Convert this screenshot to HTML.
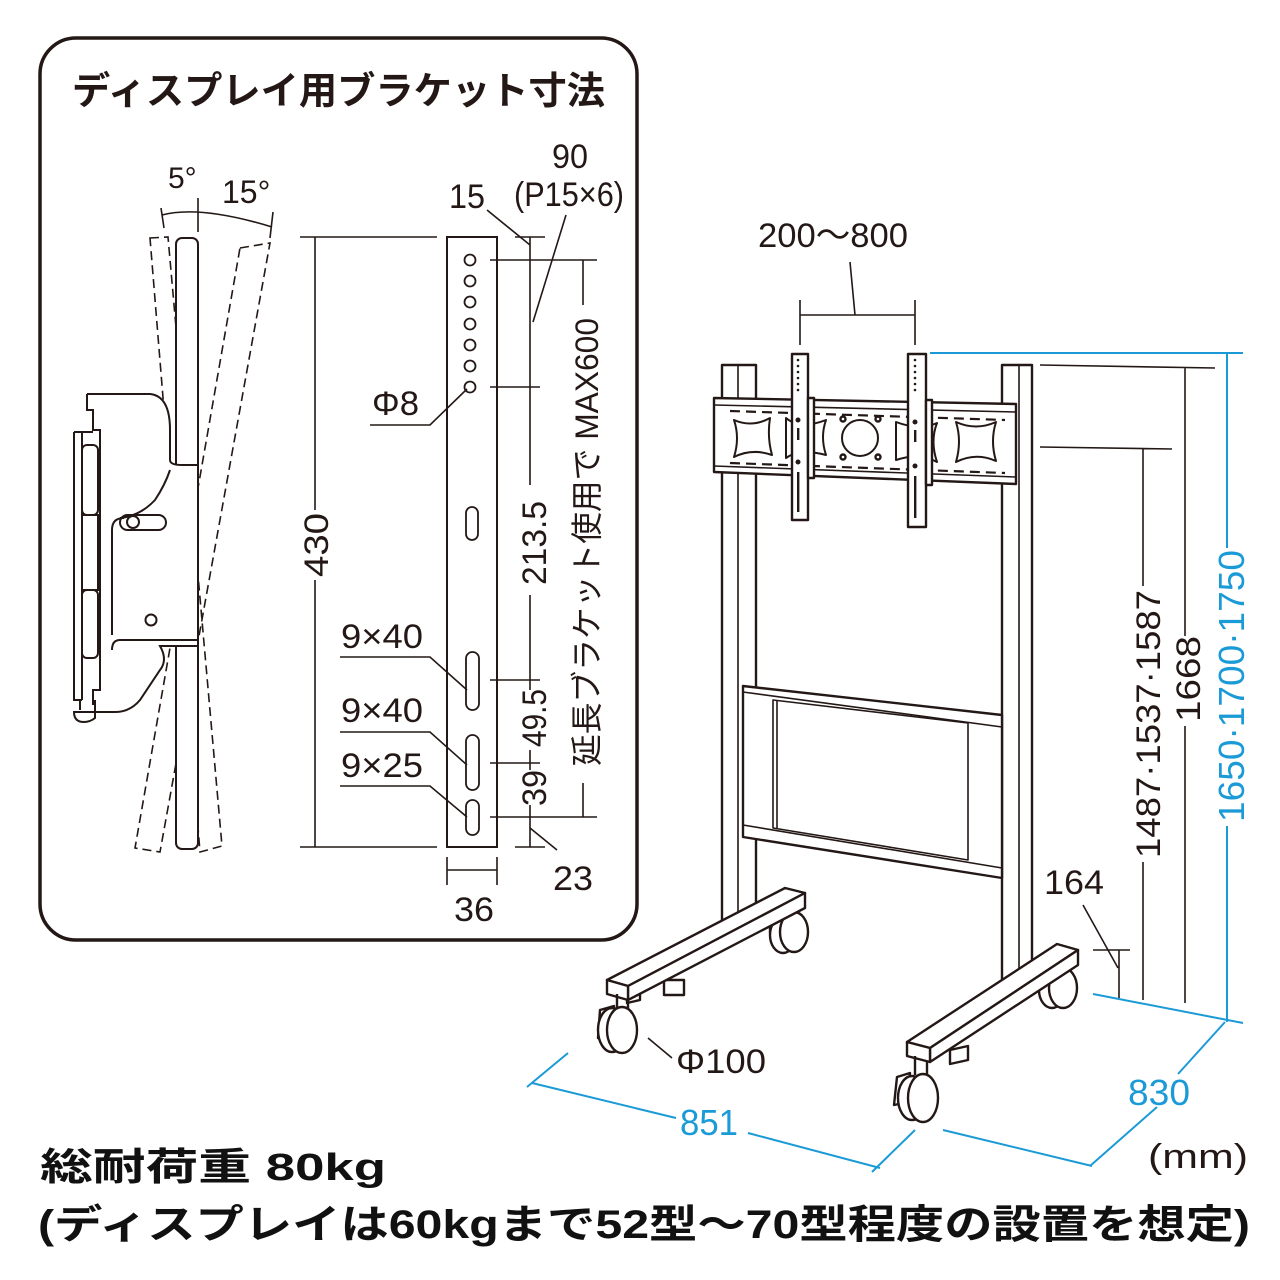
<!DOCTYPE html>
<html><head><meta charset="utf-8"><style>
html,body{margin:0;padding:0;background:#fff}
svg{display:block}
text{font-family:"Liberation Sans","Noto Sans CJK JP",sans-serif}
</style></head><body>
<svg width="1280" height="1280" viewBox="0 0 1280 1280" xmlns="http://www.w3.org/2000/svg">
<rect width="1280" height="1280" fill="#fff"/>
<rect x="40" y="38" width="597" height="902" rx="36" fill="none" stroke="#231815" stroke-width="3.5"/>
<text x="72" y="104" font-size="38" font-weight="bold" fill="#231815" textLength="533" lengthAdjust="spacingAndGlyphs">ディスプレイ用ブラケット寸法</text>

<g fill="none" stroke="#231815" stroke-width="1.6">
<path d="M161,208 L164,228 M198,198 L198,232 M273,212 L270,238"/>
<path d="M162,215 Q200,205 272,227"/>
<path d="M150,238 L168,237 L222,846 L200,852 Z" stroke-dasharray="9,5"/>
<path d="M240,248 L270,243 L160,852 L135,848 Z" stroke-dasharray="9,5"/>
<rect x="176" y="238" width="22" height="611" rx="6" fill="#fff" stroke-width="2"/>
<path d="M87,394 L150,394 Q170,396 170,430 L170,460 Q170,465 182,465 L198,465 L198,646 L160,646 Q168,660 160,670 L140,700 Q130,712 115,712 L95,712" fill="#fff" stroke-width="2"/>
<path d="M112,650 Q112,640 120,640 L198,640 M112,530 L112,635" stroke-width="2"/>
<path d="M120,518 Q140,516 155,500 Q165,485 170,470" stroke-width="2"/>
<path d="M112,530 Q112,518 124,518" stroke-width="2"/>
<path d="M160,646 L175,646" stroke-width="2"/>
<rect x="120" y="515" width="46" height="15" rx="7.5" stroke-width="2"/>
<circle cx="133" cy="522" r="6" stroke-width="2"/>
<circle cx="151" cy="620" r="5.5" stroke-width="2"/>
<path d="M87,394 L87,410 L93,410 L93,430 L100,430 L100,690 L93,690 L93,705" stroke-width="2"/>
<path d="M74,432 L74,700 L82,700 M82,432 L82,700 M74,432 L93,432" stroke-width="2"/>
<rect x="82" y="445" width="16" height="70" rx="5" stroke-width="2"/>
<rect x="82" y="515" width="16" height="75" stroke-width="2"/>
<rect x="82" y="590" width="16" height="68" rx="5" stroke-width="2"/>
<path d="M80,700 L80,710 M95,700 L95,712" stroke-width="2"/>
<path d="M74,712 L95,712 L95,718 Q90,722 84,722 Q74,722 74,712 Z" stroke-width="2"/>
<path d="M300,237 L437,237 M300,847 L437,847 M315,237 L315,510 M315,580 L315,847"/>
<rect x="447" y="237" width="50" height="610" stroke-width="2"/>
<g stroke-width="1.8">
<circle cx="470" cy="260" r="5.5"/><circle cx="470" cy="281" r="5.5"/><circle cx="470" cy="302" r="5.5"/><circle cx="470" cy="324" r="5.5"/><circle cx="470" cy="345" r="5.5"/><circle cx="470" cy="366" r="5.5"/><circle cx="470" cy="387" r="5.5"/>
<rect x="466" y="507" width="12" height="33" rx="6"/>
<rect x="466" y="652" width="13" height="58" rx="6.5"/>
<rect x="466" y="735" width="13" height="55" rx="6.5"/>
<rect x="466" y="800" width="13" height="35" rx="6.5"/>
</g>
<path d="M515,237 L545,237 M490,260 L597,260 M490,387 L540,387 M490,680 L540,680 M490,763 L540,763 M490,817 L597,817 M515,847 L545,847"/>
<path d="M530,237 L530,485 M530,595 L530,680 M530,680 L530,690 M530,750 L530,763 M530,763 L530,770 M530,805 L530,847"/>
<path d="M583,260 L583,305 M583,783 L583,817"/>
<path d="M447,857 L447,885 M497,857 L497,885 M447,870 L497,870"/>
<path d="M530,828 L557,850"/>
<path d="M487,210 L530,245"/>
<path d="M566,215 L533,322"/>
<path d="M370,425 L430,425 L467,389"/>
<path d="M340,657 L430,657 L467,690"/>
<path d="M340,732 L430,732 L467,765"/>
<path d="M340,786 L430,786 L467,817"/>
</g>
<g fill="#231815" font-size="34">
<text x="168" y="188" font-size="30">5°</text>
<text x="222" y="203" font-size="32">15°</text>
<text x="0" y="0" transform="translate(328,577) rotate(-90)" textLength="64" lengthAdjust="spacingAndGlyphs">430</text>
<text x="0" y="0" transform="translate(546,585) rotate(-90)" textLength="84" lengthAdjust="spacingAndGlyphs">213.5</text>
<text x="0" y="0" transform="translate(546,747) rotate(-90)" textLength="58" lengthAdjust="spacingAndGlyphs">49.5</text>
<text x="0" y="0" transform="translate(546,806) rotate(-90)" textLength="36" lengthAdjust="spacingAndGlyphs">39</text>
<text x="0" y="0" transform="translate(598,766) rotate(-90)" font-size="32" textLength="448" lengthAdjust="spacingAndGlyphs">延長ブラケット使用で MAX600</text>
<text x="449" y="208" textLength="36" lengthAdjust="spacingAndGlyphs">15</text>
<text x="552" y="168" textLength="36" lengthAdjust="spacingAndGlyphs">90</text>
<text x="514" y="206" textLength="110" lengthAdjust="spacingAndGlyphs">(P15×6)</text>
<text x="372" y="415" textLength="47" lengthAdjust="spacingAndGlyphs">Φ8</text>
<text x="341" y="648" textLength="82" lengthAdjust="spacingAndGlyphs">9×40</text>
<text x="341" y="722" textLength="82" lengthAdjust="spacingAndGlyphs">9×40</text>
<text x="341" y="777" textLength="82" lengthAdjust="spacingAndGlyphs">9×25</text>
<text x="553" y="890" textLength="40" lengthAdjust="spacingAndGlyphs">23</text>
<text x="454" y="921" textLength="40" lengthAdjust="spacingAndGlyphs">36</text>
<text x="758" y="247" textLength="150" lengthAdjust="spacingAndGlyphs">200～800</text>
<text x="0" y="0" transform="translate(1160,858) rotate(-90)" textLength="268" lengthAdjust="spacingAndGlyphs">1487·1537·1587</text>
<text x="0" y="0" transform="translate(1200,722) rotate(-90)" textLength="86" lengthAdjust="spacingAndGlyphs">1668</text>
<text x="1044" y="894" textLength="60" lengthAdjust="spacingAndGlyphs">164</text>
<text x="676" y="1073" textLength="90" lengthAdjust="spacingAndGlyphs">Φ100</text>
<text x="1148" y="1168" textLength="100" lengthAdjust="spacingAndGlyphs">(mm)</text>
</g>
<g fill="#1a9ad6" font-size="36">
<text x="0" y="0" transform="translate(1244,822) rotate(-90)" textLength="272" lengthAdjust="spacingAndGlyphs">1650·1700·1750</text>
<text x="680" y="1135" textLength="58" lengthAdjust="spacingAndGlyphs">851</text>
<text x="1128" y="1105" textLength="62" lengthAdjust="spacingAndGlyphs">830</text>
</g>
<g fill="none" stroke="#1a9ad6" stroke-width="2">
<path d="M930,353 L1243,353 M1227,353 L1227,548 M1227,826 L1227,1022"/>
<path d="M1093,994 L1243,1023"/>
<path d="M1225,1022 L1178,1074 M1157,1107 L1090,1166"/>
<path d="M532,1083 L676,1118 M748,1133 L880,1168 M568,1053 L527,1087 M915,1130 L872,1172 M943,1130 L1092,1166"/>
</g>
<g fill="#fff" stroke="#231815" stroke-width="2.4" stroke-linejoin="round">
<rect x="722" y="365" width="34" height="560"/>
<path d="M738,365 L738,925" stroke-width="1.6"/>
<rect x="1002" y="365" width="30" height="615"/>
<path d="M1019,365 L1019,980" stroke-width="1.6"/>
<path d="M743,686 L1002,715 L1002,878 L743,837 Z"/>
<path d="M743,692 L1002,727" stroke-width="1.6"/>
<path d="M743,825 L1002,868" stroke-width="1.6"/>
<path d="M773,700 L968,723 L968,860 L773,828 Z" stroke-width="1.6"/>
<path d="M777,700 L777,829" stroke-width="1.6"/>
<path d="M714,398 L1016,404 L1016,484 L714,472 Z"/>
<path d="M714,405 L1016,412 M714,466 L1016,477" stroke-width="1.6"/>
<path d="M730,411 L1005,420 M730,463 L1005,473" stroke-dasharray="10,6" stroke-width="2.2"/>
<path d="M734,420 Q752,428 770,418 Q767,437 772,455 Q752,448 734,457 Q740,438 734,420 Z" stroke-width="2"/>
<path d="M956,422 Q976,431 996,422 Q990,441 996,461 Q976,452 956,462 Q962,441 956,422 Z" stroke-width="2"/>
<path d="M786,418 Q800,430 826,420 Q820,437 826,455 Q800,448 786,458 Z" stroke-width="2"/>
<path d="M896,422 Q920,431 937,423 Q930,441 937,462 Q920,452 896,460 Z" stroke-width="2"/>
<circle cx="860" cy="438" r="18" stroke-width="2"/>
<circle cx="843" cy="419" r="2.5"/><circle cx="878" cy="419" r="2.5"/><circle cx="843" cy="457" r="2.5"/><circle cx="878" cy="457" r="2.5"/>
<rect x="792" y="354" width="16" height="166"/>
<rect x="808" y="398" width="6" height="80"/>
<rect x="908" y="354" width="18" height="173"/>
<rect x="926" y="400" width="6" height="85"/>
</g>
<g fill="#231815">
<circle cx="798" cy="360" r="1.3"/><circle cx="798" cy="366" r="1.3"/><circle cx="798" cy="372" r="1.3"/><circle cx="798" cy="378" r="1.3"/><circle cx="798" cy="384" r="1.3"/><circle cx="798" cy="390" r="1.3"/>
<circle cx="798" cy="420" r="2.5"/><circle cx="798" cy="462" r="2.5"/>
<rect x="797" y="428" width="2.4" height="12"/><rect x="797" y="472" width="2.4" height="40"/>
<circle cx="915" cy="360" r="1.3"/><circle cx="915" cy="366" r="1.3"/><circle cx="915" cy="372" r="1.3"/><circle cx="915" cy="378" r="1.3"/><circle cx="915" cy="384" r="1.3"/><circle cx="915" cy="390" r="1.3"/>
<circle cx="915" cy="422" r="2.5"/><circle cx="915" cy="466" r="2.5"/>
<rect x="914" y="430" width="2.4" height="12"/><rect x="914" y="476" width="2.4" height="42"/>
</g>
<g fill="#fff" stroke="#231815" stroke-width="2.4" stroke-linejoin="round">
<rect x="770" y="918" width="14" height="15"/>
<ellipse cx="783" cy="935" rx="13" ry="18"/>
<ellipse cx="794" cy="932" rx="14" ry="20"/>
<rect x="664" y="980" width="20" height="15"/>
<path d="M627,990 L640,986 L640,1000 L627,1003 Z"/>
<path d="M607,980 L785,888 L805,893 L628,986 Z"/>
<path d="M628,986 L805,893 L805,908 L628,1000 Z"/>
<path d="M607,980 L628,986 L628,1000 L607,994 Z"/>
<path d="M617,994 L617,1010 M628,1000 L628,1010"/>
<path d="M600,1010 L614,1006 L612,1035 L598,1038 Z"/>
<ellipse cx="612" cy="1030" rx="14" ry="22"/>
<ellipse cx="622" cy="1030" rx="15" ry="23"/>
<ellipse cx="1052" cy="990" rx="13" ry="18"/>
<ellipse cx="1063" cy="988" rx="14" ry="20"/>
<path d="M950,1050 L968,1046 L968,1060 L950,1064 Z"/>
<path d="M907,1042 L1057,944 L1078,950 L930,1048 Z"/>
<path d="M930,1048 L1078,950 L1078,965 L930,1062 Z"/>
<path d="M907,1042 L930,1048 L930,1062 L907,1056 Z"/>
<path d="M915,1056 L915,1075 M927,1062 L927,1075"/>
<path d="M897,1077 L910,1073 L908,1102 L894,1105 Z"/>
<ellipse cx="912" cy="1098" rx="14" ry="22"/>
<ellipse cx="923" cy="1098" rx="15" ry="24"/>
</g>
<g fill="none" stroke="#231815" stroke-width="1.6">
<path d="M800,300 L800,345 M915,300 L915,345 M800,315 L915,315 M850,262 L855,315"/>
<path d="M1040,365 L1215,368 M1185,368 L1185,636 M1185,726 L1185,1003"/>
<path d="M1040,447 L1172,449 M1143,449 L1143,586 M1143,862 L1143,1000"/>
<path d="M1093,950 L1130,950 M1119,950 L1119,998 M1083,905 L1118,968"/>
<path d="M648,1038 L672,1058"/>
</g>
<text x="40" y="1180" font-size="38" font-weight="bold" fill="#111" textLength="346" lengthAdjust="spacingAndGlyphs">総耐荷重 80kg</text>
<text x="38" y="1238" font-size="40" font-weight="bold" fill="#111" textLength="1212" lengthAdjust="spacingAndGlyphs">(ディスプレイは60kgまで52型～70型程度の設置を想定)</text>
</svg>
</body></html>
